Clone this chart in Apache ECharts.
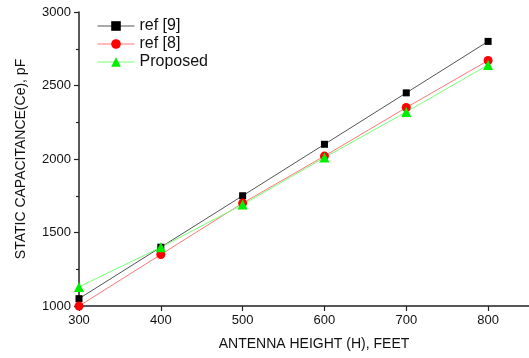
<!DOCTYPE html>
<html>
<head>
<meta charset="utf-8">
<script src="https://cdn.jsdelivr.net/npm/echarts@6/dist/echarts.min.js"></script>
<style>
  html, body { margin: 0; padding: 0; background: #fff; }
  #chart { width: 529px; height: 358px; }
</style>
</head>
<body>
<div id="chart"></div>
<script>
// Antenna height (feet) and static capacitance (pF)
const heights = [300, 400, 500, 600, 700, 800];
const ref9 = [1050, 1400, 1750, 2100, 2450, 2800];
const ref8 = [1000, 1350, 1700, 2020, 2350, 2670];
const proposed = [1130, 1400, 1690, 2010, 2320, 2640];
const xTicks = [300, 400, 500, 600, 700, 800];
const yTicks = [1000, 1500, 2000, 2500, 3000];

const font = 'Liberation Sans, Arial, sans-serif';
const axisColor = '#222';

function pairs(ys) {
  return heights.map((h, i) => [h, ys[i]]);
}

const chart = echarts.init(document.getElementById('chart'));
chart.setOption({
  animation: false,
  backgroundColor: '#fff',
  grid: { left: 79, top: 12, width: 451, height: 294, containLabel: false },
  legend: {
    left: 92, top: 13, orient: 'vertical',
    itemWidth: 37, itemHeight: 12, itemGap: 2,
    lineStyle: { width: 1 },
    textStyle: { fontFamily: font, fontSize: 16, lineHeight: 16, color: '#111' },
    data: ['ref [9]', 'ref [8]', 'Proposed']
  },
  xAxis: {
    type: 'value', min: 300, max: 850,
    name: 'ANTENNA HEIGHT (H), FEET', nameLocation: 'middle', nameGap: 31,
    nameTextStyle: { fontFamily: font, fontSize: 14, color: '#111', padding: [0, 0, 0, 20] },
    axisLine: { lineStyle: { color: axisColor, width: 1.5 } },
    axisTick: { show: true, length: 5, customValues: xTicks, lineStyle: { color: axisColor, width: 1.2 } },
    axisLabel: { customValues: xTicks, formatter: v => String(v), fontFamily: font, fontSize: 13, color: '#111', margin: 8 },
    splitLine: { show: false }
  },
  yAxis: {
    type: 'value', min: 1000, max: 3000,
    name: 'STATIC CAPACITANCE(Ce), pF', nameLocation: 'middle', nameGap: 51,
    nameTextStyle: { fontFamily: font, fontSize: 14, color: '#111' },
    axisLine: { show: true, lineStyle: { color: axisColor, width: 1.5 } },
    axisTick: { show: true, length: 5, customValues: yTicks, lineStyle: { color: axisColor, width: 1.2 } },
    minorTick: { show: true, splitNumber: 2, length: 3, lineStyle: { color: axisColor, width: 1.2 } },
    axisLabel: { customValues: yTicks, formatter: v => String(v), fontFamily: font, fontSize: 13, color: '#111', margin: 8 },
    splitLine: { show: false }
  },
  series: [
    {
      name: 'ref [9]', type: 'line', data: pairs(ref9),
      symbol: 'rect', symbolSize: 7,
      itemStyle: { color: '#000' },
      lineStyle: { color: '#555', width: 1 }
    },
    {
      name: 'ref [8]', type: 'line', data: pairs(ref8),
      symbol: 'circle', symbolSize: 9,
      itemStyle: { color: '#ff0000' },
      lineStyle: { color: '#ff7777', width: 1 }
    },
    {
      name: 'Proposed', type: 'line', data: pairs(proposed),
      symbol: 'triangle', symbolSize: 10,
      itemStyle: { color: '#00ee00' },
      lineStyle: { color: '#77ff77', width: 1 }
    }
  ]
});
</script>
</body>
</html>
